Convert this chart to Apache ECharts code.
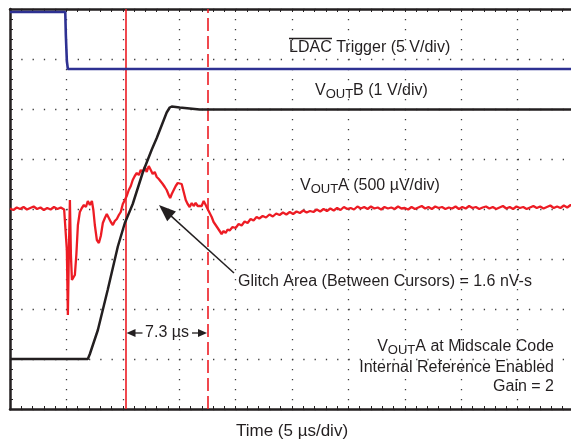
<!DOCTYPE html>
<html>
<head>
<meta charset="utf-8">
<script src="https://cdn.jsdelivr.net/npm/echarts@6/dist/echarts.min.js"></script>
<style>
html,body{margin:0;padding:0;background:#ffffff;}
#c{width:571px;height:443px;}
</style>
</head>
<body>
<div id="c"></div>
<script>
// ---------------- data (time in µs, 5 µs/div; trigger at 0 µs) ----------------
const timeMin = -5;
const timeMax = 45;
const timeStep = 5;             // µs per division
const cursorTimes = [5.25, 12.55]; // glitch-area cursors (7.3 µs apart)

// LDAC trigger, volts (5 V/div)
const ldacVolts = [
  [-5, 5.7], [-0.1, 5.7], [-0.05, 3.4], [0.04, 0.8], [0.13, 0], [1.5, 0], [1.6, 0.2], [1.7, 0], [45, 0]
];

// VOUTB, volts (1 V/div)
const voutBVolts = [
  [-5, 0], [1.9, 0], [2.08, 0.1], [2.79, 0.58], [3.67, 1.39], [4.56, 2.25], [5.18, 2.72],
  [5.88, 3.1], [6.77, 3.73], [7.57, 4.19], [8.01, 4.42], [8.89, 4.93], [9.16, 5.03],
  [9.34, 5.05], [10.04, 5.03], [11.81, 4.99], [45, 4.99]
];

// VOUTA deviation from midscale, µV (500 µV/div)
const voutAMicroVolts = [
  [-5.0, 5], [-4.7, -10], [-4.4, 15], [-4.1, 0], [-3.8, 20], [-3.5, -5], [-3.2, 10], [-2.9, 25],
  [-2.6, 0], [-2.3, 15], [-2.0, -10], [-1.7, 10], [-1.4, -5], [-1.1, 20], [-0.8, 0], [-0.5, 15],
  [-0.2, -5], [-0.05, 5],
  [0.04, -410], [0.13, -1060], [0.22, -420], [0.31, 90], [0.40, -460], [0.49, -710], [0.62, -730],
  [0.75, -660], [0.88, -460], [1.02, -160], [1.19, -30], [1.37, 10], [1.55, 40], [1.73, 20],
  [1.90, 80], [2.08, 40], [2.26, 80], [2.39, -10], [2.52, -160], [2.70, -310], [2.88, -340],
  [3.05, -270], [3.23, -140], [3.41, -90], [3.58, -50], [3.76, -90], [3.94, -130], [4.12, -160],
  [4.29, -120], [4.47, -100], [4.65, -60], [4.82, -30], [5.00, 50], [5.18, 90], [5.35, 130],
  [5.53, 190], [5.71, 230], [5.88, 290], [6.06, 330], [6.24, 360], [6.42, 340], [6.59, 390],
  [6.77, 370], [6.95, 420], [7.12, 370], [7.30, 430], [7.48, 390], [7.65, 350], [7.83, 370],
  [8.01, 320], [8.19, 300], [8.36, 280], [8.54, 250], [8.72, 220], [8.89, 190], [9.07, 140],
  [9.20, 110], [9.34, 150], [9.51, 170], [9.69, 230], [9.87, 260], [10.04, 280], [10.22, 250],
  [10.40, 170], [10.58, 90], [10.75, 50], [10.93, 20], [11.11, 60], [11.28, 30], [11.46, 60],
  [11.64, 30], [11.81, 50], [11.99, 30], [12.17, 80], [12.35, 40], [12.52, 0], [12.70, -40],
  [12.88, -80], [13.05, -130], [13.23, -160], [13.41, -190], [13.58, -210], [13.76, -250],
  [13.94, -220], [14.12, -240], [14.29, -205], [14.47, -215], [14.73, -180], [15.00, -190],
  [15.27, -150], [15.53, -165], [15.80, -125], [16.06, -140], [16.33, -100], [16.59, -115],
  [16.86, -80],
  [17.1, -95], [17.4, -70], [17.7, -85], [18.0, -55], [18.3, -75], [18.6, -45], [18.9, -60],
  [19.2, -35], [19.5, -55], [19.8, -30], [20.1, -50], [20.4, -25], [20.7, -40], [21.0, -15],
  [21.3, -35], [21.6, -20], [21.9, -30], [22.2, -5], [22.5, -25], [22.8, 0], [23.1, -20],
  [23.4, 5], [23.7, -15], [24.0, 10], [24.3, -10], [24.6, 20], [24.9, 0], [25.2, 10], [25.5, -5],
  [25.8, 25], [26.1, 5], [26.4, 20], [26.7, 0], [27.0, 25], [27.3, 5], [27.6, 15], [27.9, -5],
  [28.2, 20], [28.5, 5], [28.8, 15], [29.1, 0], [29.4, 25], [29.7, 5], [30.0, 10], [30.3, -5],
  [30.6, 20], [30.9, 0], [31.2, 15], [31.5, 30], [31.8, 5], [32.1, 20], [32.4, 0], [32.7, 25],
  [33.0, 10], [33.3, 20], [33.6, 0], [33.9, 15], [34.2, 5], [34.5, 25], [34.8, 0], [35.1, 20],
  [35.4, 5], [35.7, 30], [36.0, 10], [36.3, 20], [36.6, 0], [36.9, 15], [37.2, 25], [37.5, 5],
  [37.8, 20], [38.1, 0], [38.4, 15], [38.7, 30], [39.0, 5], [39.3, 20], [39.6, 0], [39.9, 25],
  [40.2, 10], [40.5, 20], [40.8, 0], [41.1, 15], [41.4, 30], [41.7, 10], [42.0, 25], [42.3, 5],
  [42.6, 20], [42.9, 35], [43.2, 10], [43.5, 25], [43.8, 10], [44.1, 35], [44.4, 15], [44.7, 40],
  [45.0, 25]
];

// channel ranges (8 vertical divisions each)
const voutBRange = [-1, 7];        // V
const ldacRange = [-34, 6];        // V
const voutARange = [-2000, 2000];  // µV

// ---------------- styling ----------------
const FONT = '"Liberation Sans", Arial, Helvetica, sans-serif';
const INK = '#231f20';
const RED = '#ed1c24';
const BLUE = '#2e3192';
const DOT = '#3c3c3c';

const chart = echarts.init(document.getElementById('c'), null, {renderer: 'canvas'});

const borderLine = {show: true, onZero: false, lineStyle: {color: INK, width: 2.5}};
const innerTick = {show: true, inside: true, length: 3, lineStyle: {color: INK, width: 1}};
const innerMinor = {show: true, splitNumber: 5, length: 3, lineStyle: {color: INK, width: 1}};

const xBase = {type: 'value', min: timeMin, max: timeMax, interval: timeStep, axisLabel: {show: false}};

// graphic annotations
const richStyles = {
  m: {fontSize: 16, fontFamily: FONT, fill: INK, lineHeight: 20},
  s: {fontSize: 13, fontFamily: FONT, fill: INK, lineHeight: 20, padding: [8, 0, 0, 0]}
};
function label(x, y, text, align, size) {
  return {type: 'text', x: x, y: y, silent: true, z: 100,
    style: {text: text, rich: richStyles, fill: INK, fontFamily: FONT, fontSize: size || 16,
      align: align || 'left', verticalAlign: 'middle'}};
}
function arrow(tail, tip, headLen, headHalf, width) {
  const dx = tip[0] - tail[0], dy = tip[1] - tail[1];
  const L = Math.sqrt(dx * dx + dy * dy);
  const ux = dx / L, uy = dy / L;
  const bx = tip[0] - ux * headLen, by = tip[1] - uy * headLen;
  const px = -uy * headHalf, py = ux * headHalf;
  return [
    {type: 'line', silent: true, z: 100, shape: {x1: tail[0], y1: tail[1], x2: bx + ux * 2, y2: by + uy * 2},
      style: {stroke: INK, lineWidth: width}},
    {type: 'polygon', silent: true, z: 100, shape: {points: [[tip[0], tip[1]], [bx + px, by + py], [bx - px, by - py]]},
      style: {fill: INK}}
  ];
}

const graphics = [
  label(289, 48, 'LDAC Trigger (5 V/div)'),
  {type: 'line', silent: true, z: 100, shape: {x1: 289, y1: 38.5, x2: 332, y2: 38.5}, style: {stroke: INK, lineWidth: 1.3}},
  label(315, 90.5, '{m|V}{s|OUT}{m|B (1 V/div)}'),
  label(300, 185.5, '{m|V}{s|OUT}{m|A (500 µV/div)}'),
  label(238, 282, 'Glitch Area (Between Cursors) = 1.6 nV-s'),
  label(167, 332.5, '7.3 µs', 'center'),
  label(554, 346.5, '{m|V}{s|OUT}{m|A at Midscale Code}', 'right'),
  label(554, 367.5, 'Internal Reference Enabled', 'right'),
  label(554, 386.5, 'Gain = 2', 'right')
].concat(
  arrow([234, 273], [159, 205], 17, 6.5, 1.5),
  arrow([142.5, 333], [126.5, 333], 9, 4, 1.3),
  arrow([192, 333], [207, 333], 9, 4, 1.3)
);

const option = {
  animation: false,
  backgroundColor: '#ffffff',
  grid: {left: 10, top: 9, width: 564, height: 400, show: false, containLabel: false, outerBoundsMode: 'none'},
  xAxis: [
    Object.assign({}, xBase, {
      position: 'bottom',
      axisLine: borderLine, axisTick: innerTick, minorTick: innerMinor,
      splitLine: {show: true, lineStyle: {color: DOT, width: 1.3, type: [1.3, 8.7]}},
      name: 'Time (5 µs/div)', nameLocation: 'middle', nameGap: 14,
      nameTextStyle: {fontFamily: FONT, fontSize: 17, color: INK, verticalAlign: 'top'}
    }),
    Object.assign({}, xBase, {
      position: 'top',
      axisLine: borderLine, axisTick: innerTick, minorTick: innerMinor,
      splitLine: {show: false}
    })
  ],
  yAxis: [
    {type: 'value', min: voutBRange[0], max: voutBRange[1], interval: 1, position: 'left',
      axisLine: borderLine, axisTick: innerTick, minorTick: innerMinor, axisLabel: {show: false},
      splitLine: {show: true, lineStyle: {color: DOT, width: 1.3, type: [1.3, 9.98]}}},
    {type: 'value', min: ldacRange[0], max: ldacRange[1], show: false, splitLine: {show: false}},
    {type: 'value', min: voutARange[0], max: voutARange[1], show: false, splitLine: {show: false}}
  ],
  series: [
    {
      name: 'cursors', type: 'line', data: [], xAxisIndex: 0, yAxisIndex: 0, silent: true, z: 1,
      markLine: {
        silent: true, symbol: ['none', 'none'], label: {show: false}, animation: false, z: 1,
        lineStyle: {color: RED, width: 1.6, type: 'solid'},
        emphasis: {disabled: true},
        data: [
          {xAxis: cursorTimes[0]},
          {xAxis: cursorTimes[1], lineStyle: {color: RED, width: 1.6, type: [13, 5]}}
        ]
      }
    },
    {
      name: 'VOUTA', type: 'line', xAxisIndex: 0, yAxisIndex: 2, data: voutAMicroVolts,
      symbol: 'none', silent: true, z: 2, lineStyle: {color: RED, width: 2.3}
    },
    {
      name: 'LDAC', type: 'line', xAxisIndex: 0, yAxisIndex: 1, data: ldacVolts,
      symbol: 'none', silent: true, z: 3, lineStyle: {color: BLUE, width: 2.6}
    },
    {
      name: 'VOUTB', type: 'line', xAxisIndex: 0, yAxisIndex: 0, data: voutBVolts,
      symbol: 'none', silent: true, z: 4, lineStyle: {color: INK, width: 2.5}
    }
  ],
  graphic: graphics
};
chart.setOption(option);
</script>
</body>
</html>
